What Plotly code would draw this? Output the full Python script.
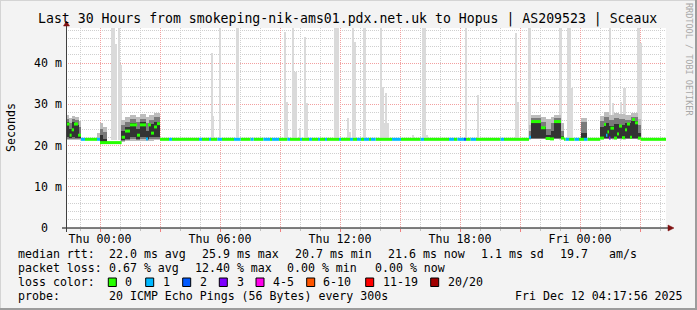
import plotly.graph_objects as go
import pandas as pd

# ---------------- data (hours relative to Thu 2025-12-11 00:00) ----------------
median_start_h = [-1.70, -1.52, -1.42, -1.30, -1.10, -0.95, -0.75, -0.15, 0.00, 1.08,
                  1.25, 1.50, 1.85, 2.00, 2.30, 2.40, 2.55, 2.70, 2.85, 3.00,
                  3.45, 3.60, 4.95, 5.10, 5.45, 5.55, 5.87, 6.10, 6.70, 7.03,
                  7.53, 7.68, 8.17, 8.50, 8.60, 8.95, 9.37, 9.50, 10.00, 10.10,
                  10.45, 10.60, 10.90, 11.00, 11.25, 11.35, 11.95, 12.05, 12.50, 12.65,
                  12.85, 13.05, 13.20, 13.45, 13.55, 13.78, 14.60, 15.05, 16.03, 16.20,
                  17.45, 17.70, 17.87, 18.20, 18.30, 18.53, 18.80, 20.03, 20.20, 21.45,
                  21.55, 22.05, 22.28, 22.50, 22.70, 23.05, 23.20, 23.28, 23.45, 23.73,
                  23.95, 24.20, 24.37, 25.00, 25.20, 25.30, 25.37, 25.45, 25.52, 25.70,
                  25.85, 25.95, 26.10, 26.25, 26.35, 26.50, 26.60, 26.75, 26.90, 27.05]
median_end_h = 28.30
median_ms = [25.2, 22.5, 23.8, 25.2, 22.5, 21.5, 21.5, 21.5, 20.7, 22.0,
             23.5, 25.0, 22.5, 25.0, 21.6, 25.0, 23.0, 24.5, 25.3, 21.5,
             21.5, 21.5, 21.5, 21.5, 21.5, 21.5, 21.5, 21.5, 21.5, 21.5,
             21.5, 21.5, 21.5, 21.5, 21.5, 21.5, 21.5, 21.5, 21.5, 21.5,
             21.5, 21.5, 21.5, 21.5, 21.5, 21.5, 21.5, 21.5, 21.5, 21.5,
             21.5, 21.5, 21.5, 21.5, 21.5, 21.5, 21.5, 21.5, 21.5, 21.5,
             21.5, 21.5, 21.5, 21.5, 21.5, 21.5, 21.5, 21.5, 21.5, 22.0,
             25.8, 24.3, 21.7, 21.6, 25.8, 21.8, 21.5, 21.5, 21.5, 21.5,
             21.5, 21.5, 21.5, 21.8, 25.1, 22.5, 23.3, 21.8, 24.2, 21.8,
             22.8, 24.7, 21.9, 23.8, 25.2, 22.0, 26.3, 25.5, 21.8, 21.5]
median_loss = [0, 0, 0, 0, 0, 1, 0, 1, 0, 0,
               0, 0, 0, 0, 1, 0, 0, 0, 0, 0,
               1, 0, 1, 0, 1, 0, 1, 0, 1, 0,
               1, 0, 1, 0, 1, 0, 1, 0, 1, 0,
               1, 0, 1, 0, 1, 0, 1, 0, 1, 0,
               1, 0, 1, 0, 1, 0, 1, 0, 1, 0,
               1, 0, 1, 2, 0, 1, 0, 1, 0, 1,
               0, 0, 0, 0, 0, 0, 0, 1, 0, 1,
               0, 1, 0, 0, 0, 1, 0, 3, 0, 0,
               0, 0, 0, 0, 0, 0, 0, 0, 0, 0]

spike_start_h = [0.55, 0.75, 0.915, 1.00, 5.55, 5.55, 5.95, 6.80, 9.20, 9.30,
                 9.60, 9.70, 9.95, 10.20, 10.32, 11.70, 12.33, 12.47, 12.58, 12.70,
                 13.15, 14.03, 14.08, 14.20, 14.28, 15.58, 16.10, 16.30, 18.27, 18.83,
                 20.78, 20.85, 21.42, 22.95, 23.33, 23.48, 23.53, 25.45, 25.58, 26.00,
                 26.17, 26.87, 27.00]
spike_end_h = [0.75, 0.80, 1.00, 1.05, 5.62, 5.70, 6.05, 6.95, 9.32, 9.40,
               9.70, 9.85, 10.05, 10.32, 10.40, 11.95, 12.47, 12.55, 12.70, 12.80,
               13.30, 14.10, 14.20, 14.45, 14.37, 15.70, 16.30, 16.35, 18.35, 18.95,
               20.85, 20.93, 21.53, 23.08, 23.45, 23.55, 23.67, 25.55, 25.70, 26.07,
               26.30, 27.00, 27.10]
spike_top_ms = [50, 44.6, 50, 39.5, 42.4, 27.2, 50, 50, 47.5, 30.5,
                50, 37.9, 24.2, 46.3, 30.3, 50, 26.7, 23.3, 50, 45.2,
                50, 50, 34.3, 25.5, 32.7, 22.5, 50, 22.5, 50, 32.2,
                47.2, 30.6, 50, 50, 50, 50, 33.9, 50, 30.4, 30.6,
                33.9, 50, 44.8]

smoke_start_h = [-1.70, -1.55, -1.40, -1.25, -1.05, -0.15, 0.00, 0.15,
                 1.05, 1.25, 1.50, 1.80, 2.00, 2.30, 2.45, 2.70,
                 21.45, 21.55, 22.05, 22.30, 22.55, 22.70, 23.05,
                 24.05,
                 25.00, 25.20, 25.45, 25.70, 25.95, 26.25, 26.55, 26.90]
smoke_end_h = [-1.55, -1.40, -1.25, -1.05, -0.95, 0.00, 0.15, 0.35,
               1.25, 1.50, 1.80, 2.00, 2.30, 2.45, 2.70, 3.00,
               21.55, 22.05, 22.30, 22.55, 22.70, 23.05, 23.20,
               24.35,
               25.20, 25.45, 25.70, 25.95, 26.25, 26.55, 26.90, 27.05]
smoke_outer_lo = [21.3, 21.3, 21.3, 21.3, 21.3, 21.3, 20.6, 20.6,
                  20.8, 21.0, 21.2, 21.0, 21.2, 21.0, 21.2, 21.3,
                  21.5, 21.5, 21.5, 21.5, 21.5, 21.5, 21.5,
                  21.5,
                  21.5, 21.5, 21.5, 21.5, 21.5, 21.5, 21.5, 21.5]
smoke_outer_hi = [27.4, 26.6, 27.2, 27.0, 26.0, 23.0, 25.5, 24.5,
                  26.3, 26.8, 27.4, 27.0, 27.6, 26.8, 27.4, 27.8,
                  25.0, 27.4, 27.0, 26.5, 27.0, 27.4, 25.5,
                  26.7,
                  27.2, 28.2, 27.5, 28.0, 27.6, 27.4, 28.0, 26.5]
smoke_mid_lo = [21.5, 21.5, 21.6, 21.5, 21.5, 21.4, 20.7, 20.7,
                21.0, 21.3, 21.5, 21.3, 21.5, 21.3, 21.5, 21.6,
                21.6, 21.6, 21.6, 21.6, 21.6, 21.6, 21.6,
                21.6,
                21.6, 21.6, 21.6, 21.6, 21.6, 21.6, 21.6, 21.6]
smoke_mid_hi = [26.5, 25.5, 26.4, 26.2, 24.5, 21.8, 24.0, 23.3,
                25.0, 25.8, 26.4, 25.8, 26.5, 25.5, 26.3, 26.8,
                23.5, 26.6, 25.8, 24.0, 25.5, 26.6, 23.5,
                25.8,
                26.0, 26.8, 26.2, 26.6, 26.4, 26.2, 26.8, 25.0]
smoke_core_lo = [22.0, 21.8, 22.0, 21.8, 21.7, 21.4, 20.8, 20.7,
                 21.3, 21.6, 22.0, 21.6, 22.0, 21.5, 22.0, 22.0,
                 21.7, 21.8, 21.8, 21.7, 21.8, 21.8, 21.7,
                 21.7,
                 21.8, 21.8, 21.8, 21.8, 21.8, 21.8, 21.8, 21.7]
smoke_core_hi = [25.8, 24.0, 25.6, 25.0, 22.8, 21.4, 22.5, 21.5,
                 23.5, 24.5, 25.5, 24.0, 25.6, 23.5, 25.2, 25.8,
                 22.2, 26.0, 24.5, 22.5, 23.5, 26.0, 22.3,
                 23.0,
                 24.5, 25.5, 24.8, 25.2, 25.0, 25.5, 26.0, 23.0]

loss_labels = ["0", "1", "2", "3", "4-5", "6-10", "11-19", "20/20"]
loss_colors = ["#26ff00", "#00b8ff", "#0059ff", "#7e00ff", "#ff00ea", "#ff5500", "#ff0000", "#a10000"]

x_tick_hours = [0, 3, 6, 9, 12, 15, 18, 21, 24, 27]
x_tick_labels = ["Thu 00:00", "", "Thu 06:00", "", "Thu 12:00", "", "Thu 18:00", "", "Fri 00:00", ""]
y_tick_vals = [0, 10, 20, 30, 40]
y_tick_labels = ["0\u00a0\u00a0", "10\u00a0m", "20\u00a0m", "30\u00a0m", "40\u00a0m"]

title_text = "Last 30 Hours from smokeping-nik-ams01.pdx.net.uk to Hopus | AS209523 | Sceaux"
stat_rows = [
    ["median rtt:", "22.0 ms avg", "25.9 ms max", "20.7 ms min", "21.6 ms now", "1.1 ms sd", "19.7", "am/s"],
    ["packet loss:", "0.67 % avg", "12.40 % max", "0.00 % min", "0.00 % now"],
    ["loss color:"],
    ["probe:", "20 ICMP Echo Pings (56 Bytes) every 300s", "Fri Dec 12 04:17:56 2025"],
]

# ---------------- layout helpers (pixel geometry) ----------------
W, H = 697, 310
PL, PR, PT, PB = 66, 666, 28, 228
stat_x_px = [
    [16, 107, 200, 293, 385.7, 479.3, 558.3, 607.3],
    [16, 107, 193.3, 285, 372.7],
    [16],
    [16, 107.3, 513.3],
]
stat_y_px = [254, 268, 282, 296]
legend_sq_px = [108.3, 145.7, 182.7, 219.3, 256, 306.7, 365.7, 430.7]
legend_lbl_px = [123.3, 161, 197.7, 235, 270.7, 320.7, 380.7, 445.7]


def px(x):
    return (x - PL) / (PR - PL)


def py(y):
    return (PB - y) / (PB - PT)


BASE = pd.Timestamp("2025-12-11 00:00:00")
END = pd.Timestamp("2025-12-12 04:17:56")
START = END - pd.Timedelta(hours=30)


def t(h):
    return BASE + pd.Timedelta(hours=h)


def bars(h0s, h1s, los, his, color):
    return go.Bar(
        x=[t((a + b) / 2) for a, b in zip(h0s, h1s)],
        width=[(b - a) * 3600 * 1000 for a, b in zip(h0s, h1s)],
        base=los,
        y=[max(hh - ll, 0) for ll, hh in zip(los, his)],
        marker=dict(color=color, line=dict(width=0)),
        hoverinfo="skip",
    )


fig = go.Figure()

# spikes (outer light smoke)
fig.add_trace(bars(spike_start_h, spike_end_h, [21.3] * len(spike_top_ms), spike_top_ms, "#DADADA"))
# smoke layers
fig.add_trace(bars(smoke_start_h, smoke_end_h, smoke_outer_lo, smoke_outer_hi, "#BDBDBD"))
fig.add_trace(bars(smoke_start_h, smoke_end_h, smoke_mid_lo, smoke_mid_hi, "#7A7A7A"))
fig.add_trace(bars(smoke_start_h, smoke_end_h, smoke_core_lo, smoke_core_hi, "#333333"))

# median line coloured by loss (horizontal dashes, one per segment)
ends = median_start_h[1:] + [median_end_h]
for code, col in enumerate(loss_colors):
    xs, ys = [], []
    for h0, h1, v, lc in zip(median_start_h, ends, median_ms, median_loss):
        if lc != code:
            continue
        if xs:
            xs.append(None)
            ys.append(None)
        xs += [t(h0), t(h1)]
        ys += [v, v]
    if xs:
        fig.add_trace(go.Scatter(x=xs, y=ys, mode="lines", line=dict(color=col, width=3),
                                 hoverinfo="skip"))

mono = "DejaVu Sans Mono"
fig.update_layout(
    width=W, height=H,
    margin=dict(l=PL, r=W - PR, t=PT, b=H - PB, pad=0),
    paper_bgcolor="#F3F3F3", plot_bgcolor="#FFFFFF",
    barmode="overlay", bargap=0, showlegend=False,
    font=dict(family=mono, size=11.6, color="#000000"),
    xaxis=dict(
        type="date", range=[START, END], tickmode="array",
        tickvals=[t(h) for h in x_tick_hours], ticktext=x_tick_labels,
        showgrid=True, gridcolor="#F2A0A0", griddash="1px,1px", gridwidth=1,
        minor=dict(dtick=3600000, showgrid=True, gridcolor="#CFCFCF", griddash="1px,1px",
                   ticks="outside", ticklen=2, tickcolor="#C0C0C0"),
        ticks="outside", ticklen=3, tickcolor="#F08080", ticklabelstandoff=-3,
        zeroline=False, showline=False, automargin=False,
        tickfont=dict(family=mono, size=11.6, color="#000000"),
    ),
    yaxis=dict(
        range=[0, 200 / 4.125], tickmode="array", tickvals=y_tick_vals, ticktext=y_tick_labels,
        showgrid=True, gridcolor="#F2A0A0", griddash="1px,1px", gridwidth=1,
        minor=dict(dtick=2, showgrid=True, gridcolor="#CFCFCF", griddash="1px,1px"),
        ticks="", ticklabelstandoff=3,
        zeroline=False, showline=False, automargin=False,
        tickfont=dict(family=mono, size=11.6, color="#000000"),
    ),
)

shapes = []
# outer frame
shapes.append(dict(type="line", xref="paper", yref="paper", x0=px(0), x1=px(W), y0=py(0.5), y1=py(0.5),
                   line=dict(color="#D4D4D4", width=1)))
shapes.append(dict(type="line", xref="paper", yref="paper", x0=px(0.5), x1=px(0.5), y0=py(0), y1=py(H),
                   line=dict(color="#D4D4D4", width=1)))
shapes.append(dict(type="line", xref="paper", yref="paper", x0=px(0), x1=px(W), y0=py(H - 1), y1=py(H - 1),
                   line=dict(color="#9C9C9C", width=2)))
shapes.append(dict(type="line", xref="paper", yref="paper", x0=px(W - 1), x1=px(W - 1), y0=py(0), y1=py(H),
                   line=dict(color="#9C9C9C", width=2)))
# axes
shapes.append(dict(type="line", xref="paper", yref="paper", x0=px(62), x1=px(669), y0=py(228), y1=py(228),
                   line=dict(color="#000000", width=1)))
shapes.append(dict(type="line", xref="paper", yref="paper", x0=px(66.5), x1=px(66.5), y0=py(232), y1=py(25),
                   line=dict(color="#404040", width=1)))
# arrows
shapes.append(dict(type="path", xref="paper", yref="paper",
                   path=f"M {px(668)},{py(225)} L {px(674)},{py(228)} L {px(668)},{py(231)} Z",
                   fillcolor="#7F1010", line=dict(color="#7F1010", width=0.5)))
shapes.append(dict(type="path", xref="paper", yref="paper",
                   path=f"M {px(63.5)},{py(26)} L {px(66.5)},{py(21)} L {px(69.5)},{py(26)} Z",
                   fillcolor="#7F1010", line=dict(color="#7F1010", width=0.5)))
# loss colour squares
for sx, col in zip(legend_sq_px, loss_colors):
    shapes.append(dict(type="rect", xref="paper", yref="paper",
                       x0=px(sx), x1=px(sx + 8), y0=py(286.5), y1=py(278),
                       fillcolor=col, line=dict(color="#000000", width=1)))

annotations = []
annotations.append(dict(text=title_text, x=px(347.5), y=py(19), xref="paper", yref="paper",
                        xanchor="center", yanchor="middle", showarrow=False,
                        font=dict(family=mono, size=13.2, color="#000000")))
annotations.append(dict(text="Seconds", x=px(11), y=0.5, xref="paper", yref="paper",
                        xanchor="center", yanchor="middle", textangle=-90, showarrow=False,
                        font=dict(family=mono, size=11.6, color="#000000")))
annotations.append(dict(text="RRDTOOL / TOBI OETIKER", x=px(689), y=py(59), xref="paper", yref="paper",
                        xanchor="center", yanchor="middle", textangle=90, showarrow=False,
                        font=dict(family=mono, size=8.5, color="#A8A8A8")))
for row, xs_, yy in zip(stat_rows, stat_x_px, stat_y_px):
    for txt, xx in zip(row, xs_):
        annotations.append(dict(text=txt.replace(" ", "\u00a0"), x=px(xx), y=py(yy), xref="paper", yref="paper",
                                xanchor="left", yanchor="middle", showarrow=False,
                                font=dict(family=mono, size=11.6, color="#000000")))
for lx, lbl in zip(legend_lbl_px, loss_labels):
    annotations.append(dict(text=lbl, x=px(lx), y=py(282), xref="paper", yref="paper",
                            xanchor="left", yanchor="middle", showarrow=False,
                            font=dict(family=mono, size=11.6, color="#000000")))

fig.update_layout(shapes=shapes, annotations=annotations)
fig.write_html("out.html")
